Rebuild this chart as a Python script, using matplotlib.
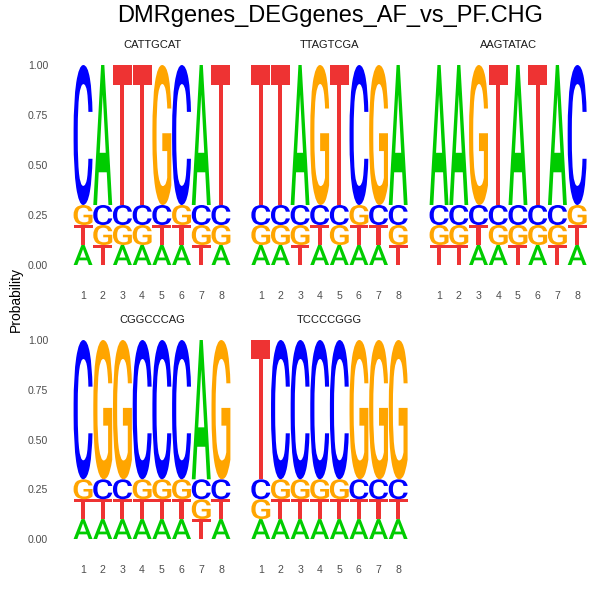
import matplotlib
matplotlib.use("Agg")
import matplotlib.pyplot as plt
from matplotlib.textpath import TextPath
from matplotlib.patches import PathPatch
from matplotlib.font_manager import FontProperties, findfont
from matplotlib.transforms import Affine2D, offset_copy

# motif names (facet titles) and stacking order of bases per position, bottom -> top
motifs = ["CATTGCAT", "TTAGTCGA", "AAGTATAC", "CGGCCCAG", "TCCCCGGG"]
stack_order = [
    ["ATGC", "TGCA", "AGCT", "AGCT", "ATCG", "ATGC", "TGCA", "AGCT"],
    ["AGCT", "AGCT", "TGCA", "ATCG", "AGCT", "ATGC", "ATCG", "TGCA"],
    ["TGCA", "TGCA", "ATCG", "AGCT", "TGCA", "AGCT", "TGCA", "ATGC"],
    ["ATGC", "ATCG", "ATCG", "ATGC", "ATGC", "ATGC", "TGCA", "ATCG"],
    ["AGCT", "ATGC", "ATGC", "ATGC", "ATGC", "ATCG", "ATCG", "ATCG"],
]
# probability of the consensus base and of each of the other three
dominant_prob = 0.7
minor_prob = 0.1

base_colors = {"A": "#00CC00", "C": "#0000FF", "G": "#FFA500", "T": "#EE3333"}
letter_font = FontProperties(family="Roboto", weight="medium")
print(findfont(letter_font))
glyphs = {}
for b in "ACGT":
    glyphs[b] = TextPath((0, 0), b, size=1, prop=letter_font)


def draw_letter(ax, base, x, y0, h, w=0.96):
    path = glyphs[base]
    ext = path.get_extents()
    tr = (Affine2D().translate(-ext.x0, -ext.y0)
          .scale(w / ext.width, h / ext.height)
          .translate(x - w / 2, y0))
    patch = PathPatch(tr.transform_path(path), facecolor=base_colors[base],
                      edgecolor="none", lw=0, transform=ax.transData, clip_on=False)
    ax.add_patch(patch)


W = H = 600
fig = plt.figure(figsize=(6, 6), dpi=100)

# panel boxes in pixels: left, right (x = 0.5 .. 8.5), top (y=1), bottom (y=0)
col_px = [(73.2, 230.8), (251.0, 408.0), (429.2, 587.0)]
row_px = [(65, 265), (340, 539)]

for i, name in enumerate(motifs):
    r, c = divmod(i, 3)
    x0, x1 = col_px[c]
    yt, yb = row_px[r]
    ax = fig.add_axes([x0 / W, 1 - yb / H, (x1 - x0) / W, (yb - yt) / H])
    ax.set_xlim(0.5, 8.5)
    ax.set_ylim(0, 1)
    for s in ax.spines.values():
        s.set_visible(False)
    ax.set_xticks(range(1, 9))
    ax.tick_params(axis="x", length=0, pad=19, labelsize=7.6, labelcolor="#4D4D4D")
    ax.set_yticks([0, 0.25, 0.5, 0.75, 1.0])
    if c == 0:
        ax.set_yticklabels(["0.00", "0.25", "0.50", "0.75", "1.00"])
    else:
        ax.set_yticklabels([])
    ax.tick_params(axis="y", length=0, pad=18, labelsize=7.6, labelcolor="#4D4D4D")
    for lab in ax.get_xticklabels() + ax.get_yticklabels():
        lab.set_family("Liberation Sans")

    for p, order in enumerate(stack_order[i]):
        y = 0.0
        for b in order:
            h = dominant_prob if b == name[p] else minor_prob
            draw_letter(ax, b, p + 1, y, h)
            y += h

    tt = offset_copy(ax.transData, fig=fig, x=0, y=20 * 72 / 100, units="points")
    ax.text(4.5, 1.0, name, transform=tt, ha="center", va="center",
            fontsize=8, color="#1A1A1A", family="Liberation Sans")

fig.text(330 / W, 1 - 16 / H, "DMRgenes_DEGgenes_AF_vs_PF.CHG", ha="center",
         va="center", fontsize=17, family="Liberation Sans")
fig.text(16 / W, 1 - 300 / H, "Probability", ha="center", va="center",
         rotation=90, fontsize=10, family="Liberation Sans")

fig.savefig("out.png", dpi=100, facecolor="white")
